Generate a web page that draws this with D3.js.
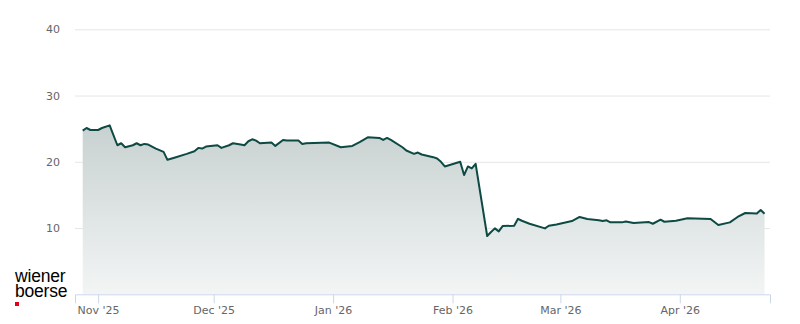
<!DOCTYPE html>
<html>
<head>
<meta charset="utf-8">
<script src="https://cdn.jsdelivr.net/npm/d3@7"></script>
<style>
  body { margin: 0; background: #fff; }
  svg { display: block; }
</style>
</head>
<body>
<div id="chart"></div>
<script>
// price history, trading days
var dates = [
  "2025-10-28", "2025-10-29", "2025-10-30", "2025-10-31", "2025-11-01", "2025-11-02",
  "2025-11-04", "2025-11-06", "2025-11-07", "2025-11-08", "2025-11-10", "2025-11-11",
  "2025-11-12", "2025-11-13", "2025-11-14", "2025-11-16", "2025-11-18", "2025-11-19",
  "2025-11-21", "2025-11-24", "2025-11-26", "2025-11-27", "2025-11-28", "2025-11-29",
  "2025-12-02", "2025-12-03", "2025-12-05", "2025-12-06", "2025-12-08", "2025-12-09",
  "2025-12-10", "2025-12-11", "2025-12-12", "2025-12-13", "2025-12-16", "2025-12-17",
  "2025-12-19", "2025-12-20", "2025-12-23", "2025-12-24", "2025-12-25", "2025-12-31",
  "2026-01-03", "2026-01-06", "2026-01-08", "2026-01-10", "2026-01-13", "2026-01-14",
  "2026-01-15", "2026-01-16", "2026-01-19", "2026-01-20", "2026-01-22", "2026-01-23",
  "2026-01-24", "2026-01-27", "2026-01-28", "2026-01-29", "2026-01-30", "2026-02-03",
  "2026-02-04", "2026-02-05", "2026-02-06", "2026-02-07", "2026-02-10", "2026-02-11",
  "2026-02-12", "2026-02-13", "2026-02-14", "2026-02-17", "2026-02-18", "2026-02-19",
  "2026-02-21", "2026-02-25", "2026-02-26", "2026-02-28", "2026-03-04", "2026-03-06",
  "2026-03-08", "2026-03-11", "2026-03-12", "2026-03-13", "2026-03-14", "2026-03-17",
  "2026-03-18", "2026-03-20", "2026-03-24", "2026-03-25", "2026-03-27", "2026-03-28",
  "2026-03-31", "2026-04-03", "2026-04-09", "2026-04-11", "2026-04-14", "2026-04-16",
  "2026-04-18", "2026-04-21", "2026-04-22", "2026-04-23"
];
var prices = [
  24.7, 25.1, 24.8, 24.8, 24.8, 25.1,
  25.5, 22.5, 22.8, 22.2, 22.5, 22.8,
  22.5, 22.7, 22.6, 22.0, 21.5, 20.3,
  20.65, 21.2, 21.6, 22.1, 22.0, 22.3,
  22.5, 22.1, 22.5, 22.8, 22.6, 22.5,
  23.1, 23.4, 23.2, 22.8, 22.9, 22.4,
  23.3, 23.2, 23.2, 22.7, 22.8, 22.9,
  22.2, 22.4, 23.0, 23.7, 23.6, 23.3,
  23.6, 23.3, 22.2, 21.7, 21.2, 21.4,
  21.1, 20.7, 20.5, 20.0, 19.3, 20.0,
  18.0, 19.3, 19.0, 19.7, 8.8, 9.4,
  9.95, 9.5, 10.3, 10.35, 11.4, 11.1,
  10.65, 9.95, 10.35, 10.55, 11.06, 11.67,
  11.36, 11.17, 11.06, 11.17, 10.86, 10.86,
  11.0, 10.75, 10.9, 10.65, 11.26, 10.95,
  11.1, 11.47, 11.36, 10.45, 10.86, 11.67,
  12.27, 12.2, 12.73, 12.17
];
var yTicks = [10, 20, 30, 40];
var monthTicks = ["2025-11-01", "2025-12-01", "2026-01-01", "2026-02-01", "2026-03-01", "2026-04-01"];

var W = 800, H = 324,
    plotLeft = 75, plotRight = 770, plotTop = 29.3, plotBottom = 294.3;

var parse = d3.utcParse("%Y-%m-%d"),
    fmt = d3.utcFormat("%b '%y");

var data = dates.map(function(d, i) { return { date: parse(d), value: prices[i] }; });

var x = d3.scaleUtc()
    .domain([parse("2025-10-26"), new Date(Date.UTC(2026, 3, 24, 10))])
    .range([plotLeft, plotRight]);

var y = d3.scaleLinear().domain([0, 40]).range([plotBottom, plotTop]);

var svg = d3.select("#chart").append("svg")
    .attr("width", W)
    .attr("height", H)
    .style("font-family", "'DejaVu Sans', sans-serif");

var grad = svg.append("defs").append("linearGradient")
    .attr("id", "fill")
    .attr("gradientUnits", "userSpaceOnUse")
    .attr("x1", 0).attr("x2", 0)
    .attr("y1", y(26)).attr("y2", y(0));
grad.append("stop").attr("offset", 0).attr("stop-color", "#c7d0d0");
grad.append("stop").attr("offset", 1).attr("stop-color", "#f3f5f5");

// horizontal grid + y labels
var yAxis = d3.axisLeft(y)
    .tickValues(yTicks)
    .tickSize(-(plotRight - plotLeft))
    .tickPadding(15);

svg.append("g")
   .attr("transform", "translate(" + plotLeft + ",0)")
   .call(yAxis)
   .call(function(g) {
     g.attr("font-size", null).attr("font-family", null);
     g.select(".domain").remove();
     g.selectAll(".tick line").attr("stroke", "#e6e6e6");
     g.selectAll(".tick text")
      .attr("fill", "#666")
      .style("font-size", "11px");
   });

var area = d3.area()
    .x(function(d) { return x(d.date); })
    .y0(y(0))
    .y1(function(d) { return y(d.value); });

var line = d3.line()
    .x(function(d) { return x(d.date); })
    .y(function(d) { return y(d.value); });

svg.append("path")
   .datum(data)
   .attr("d", area)
   .attr("fill", "url(#fill)");

svg.append("path")
   .datum(data)
   .attr("d", line)
   .attr("fill", "none")
   .attr("stroke", "#0d4a44")
   .attr("stroke-width", 2)
   .attr("stroke-linejoin", "round");

// x axis
var xAxis = d3.axisBottom(x)
    .tickValues(monthTicks.map(parse))
    .tickFormat(fmt)
    .tickSizeOuter(0)
    .tickSize(9)
    .tickPadding(3);

svg.append("g")
   .attr("transform", "translate(0," + plotBottom + ")")
   .call(xAxis)
   .call(function(g) {
     g.attr("font-size", null).attr("font-family", null);
     g.select(".domain").attr("stroke", "#ccd6eb");
     g.selectAll(".tick line").attr("stroke", "#ccd6eb");
     g.selectAll(".tick text")
      .attr("fill", "#666")
      .style("font-size", "11px");
   });

// logo
var logo = svg.append("g")
    .style("font-family", "'Liberation Sans', Arial, sans-serif")
    .attr("font-size", 17.5)
    .attr("letter-spacing", -0.2)
    .attr("fill", "#000");
logo.append("text").attr("x", 15).attr("y", 282).text("wiener");
logo.append("text").attr("x", 15).attr("y", 297).text("boerse");
logo.append("rect").attr("x", 15).attr("y", 302).attr("width", 4).attr("height", 4).attr("fill", "#e2001a");
</script>
</body>
</html>
